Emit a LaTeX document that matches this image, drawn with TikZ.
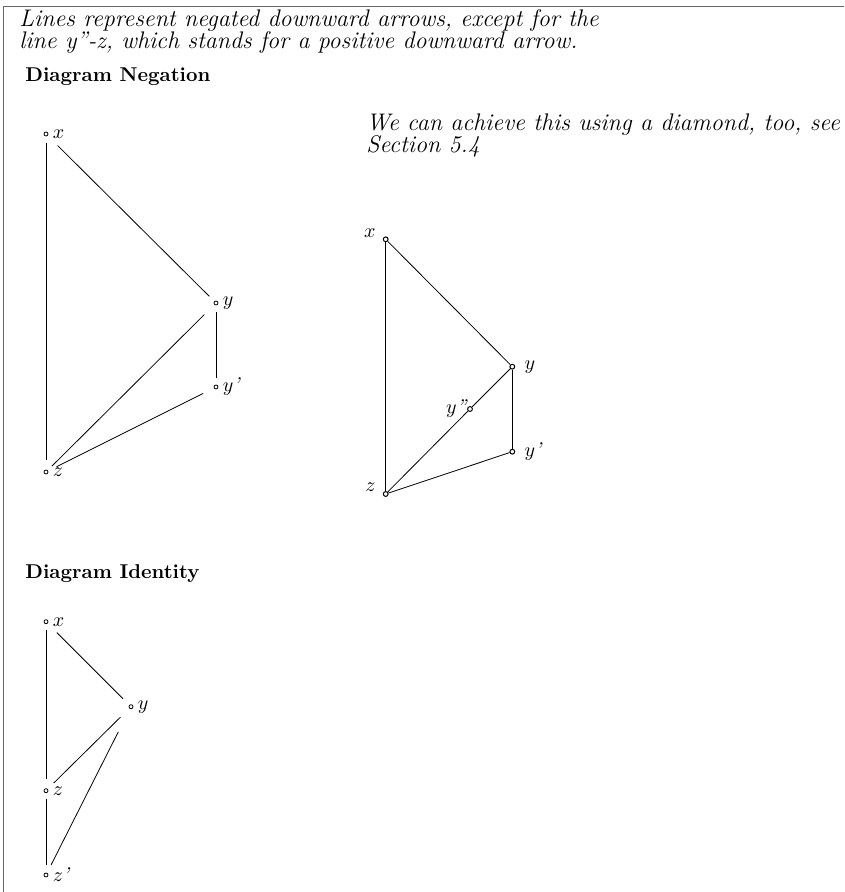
\documentclass[tikz,border=0pt]{standalone}
\usetikzlibrary{positioning}
\tikzset{
  dot/.style={circle,draw,inner sep=0pt,minimum size=2pt},
  fatdot/.style={circle,draw,line width=0.5pt,inner sep=0pt,minimum size=2.4pt},
  lbl/.style={inner sep=0.5pt},
  gap/.style 2 args={shorten <=#1,shorten >=#2},
  head/.style={anchor=base west,font=\bfseries,inner sep=0pt},
  note/.style={anchor=base west,font=\fontsize{12pt}{11pt}\itshape,inner sep=0pt},
}

\begin{document}
\begin{tikzpicture}[x=0.5pt,y=-0.5pt]
\useasboundingbox (0,0) rectangle (844,892);
\draw[black!60,line width=0.5pt] (844,6.5) -- (3.5,6.5) -- (3.5,892);

%%%%%%%%%%   texts
\node[note] (cap1) at (19,27) {Lines represent negated downward arrows, except for the};
\node[note] (cap2) at (19,49) {line y"-z, which stands for a positive downward arrow.};
\node[head] (hneg) at (25,82) {Diagram Negation};
\node[head] (hid) at (25,578) {Diagram Identity};
\node[note] (rem1) at (366,131) {We can achieve this using a diamond, too, see};
\node[note] (rem2) at (366,153) {Section 5.4};

%%%%%%%%%%   negation
\node[dot,label={[lbl,label distance=1.5pt]right:$x$}] (nx) at (46,134) {};
\node[dot,label={[lbl,label distance=1.5pt]right:$y$}] (ny) at (216,303) {};
\node[dot,label={[lbl,label distance=1.5pt]right:$y$\textit{'}}] (nyp) at (216,387) {};
\node[dot,label={[lbl,label distance=1.5pt]right:$z$}] (nz) at (46,472) {};

\draw[gap={3.5pt}{5pt}] (nx) -- (nz);
\draw[gap={7pt}{3.5pt}] (nx) -- (ny);
\draw[gap={3.5pt}{3.5pt}] (ny) -- (nyp);
\draw[gap={7pt}{3pt}] (ny) -- (nz);
\draw[gap={6pt}{4.7pt}] (nyp) -- (nz);

%%%%%%%%%%   negation with a diamond
\node[fatdot,label={[lbl,label distance=3pt]175:$x$}] (dx) at (385.7,239.3) {};
\node[fatdot,label={[lbl,label distance=4pt]right:$y$}] (dy) at (512.3,366.7) {};
\node[fatdot,label={[lbl,label distance=-1pt]left:$y$\textit{''}}] (dyy) at (470,409) {};
\node[fatdot,label={[lbl,label distance=4pt]right:$y$\textit{'}}] (dyp) at (512.3,451.7) {};
\node[fatdot,label={[lbl,label distance=3pt]172:$z$}] (dz) at (385.7,494) {};

\draw (dx) -- (dz);
\draw (dx) -- (dy);
\draw (dy) -- (dyp);
\draw (dyp) -- (dz);
\draw (dz) -- (dyy);
\draw (dyy) -- (dy);

%%%%%%%%%%   identity
\node[dot,label={[lbl,label distance=1.5pt]right:$x$}] (ix) at (46,621.7) {};
\node[dot,label={[lbl,label distance=1.5pt]right:$y$}] (iy) at (131,706.7) {};
\node[dot,label={[lbl,label distance=1.5pt]right:$z$}] (iz) at (46,790.7) {};
\node[dot,label={[lbl,label distance=1.5pt]right:$z$\textit{'}}] (izp) at (46,875) {};

\draw[gap={3pt}{4.5pt}] (ix) -- (iz);
\draw[gap={6.5pt}{4.4pt}] (ix) -- (iy);
\draw[gap={6.2pt}{4.2pt}] (iy) -- (iz);
\draw[gap={3pt}{4pt}] (iz) -- (izp);
\draw[gap={12.9pt}{4.5pt}] (iy) -- (izp);
\end{tikzpicture}
\end{document}
